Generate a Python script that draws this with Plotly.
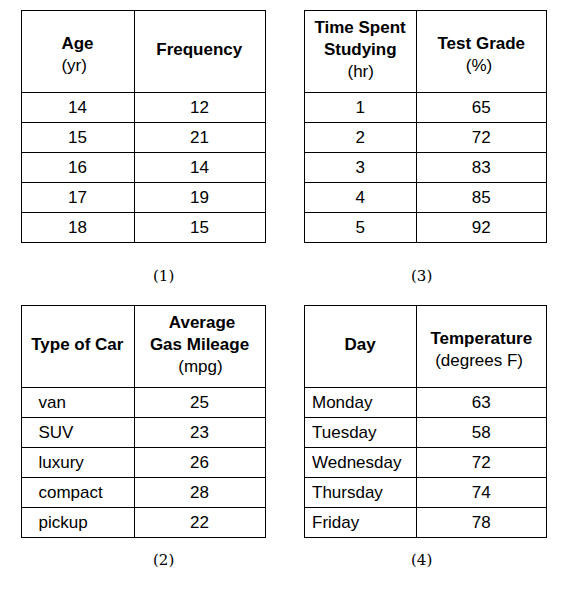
import plotly.graph_objects as go

W, H = 566, 597
age = ["14", "15", "16", "17", "18"]
freq = ["12", "21", "14", "19", "15"]
hours = ["1", "2", "3", "4", "5"]
grade = ["65", "72", "83", "85", "92"]
cars = ["van", "SUV", "luxury", "compact", "pickup"]
mpg = ["25", "23", "26", "28", "22"]
days = ["Monday", "Tuesday", "Wednesday", "Thursday", "Friday"]
temps = ["63", "58", "72", "74", "78"]

N = "&nbsp;"
BIG = "&nbsp;<br>"
SMALL = "<span style='font-size:10px'>&nbsp;</span><br>"

tables = [
    ([SMALL + "<b>Age</b><br>(yr)", BIG + "<b>Frequency</b>"], [age, freq], (21, 265, 134), 10, ["center", "center"], "(1)", 143),
    (["<b>Time Spent</b><br>" + N * 2 + "<b>Studying</b><br>" + N * 7 + "(hr)",
      SMALL + "<b>Test Grade</b><br>" + N * 6 + "(%)"], [hours, grade], (304, 547, 417), 10, ["center", "center"], "(3)", 426),
    ([BIG + "<b>Type of Car</b>", N * 4 + "<b>Average</b><br><b>Gas Mileage</b><br>" + N * 6 + "(mpg)"],
     [["  " + c for c in cars], mpg], (21, 265, 134), 305, ["left", "center"], "(2)", 143),
    ([BIG + "<b>Day</b>", SMALL + "<b>Temperature</b><br>" + N + "(degrees F)"], [days, temps], (304, 547, 417), 305, ["left", "center"], "(4)", 426),
]

fig = go.Figure()
for hdr, cols, (x0, x1, xd), ytop, al, lab, lx in tables:
    x0s, x1s, yts = x0 - 8, x1 - 8, ytop - 8
    fig.add_trace(go.Table(
        domain=dict(x=[x0s / W, x1s / W], y=[0, 1 - yts / H]),
        columnwidth=[xd - x0, x1 - xd],
        header=dict(values=hdr, height=82, align="center",
                    line=dict(color="black", width=1), fill=dict(color="white"),
                    font=dict(family="Liberation Sans", size=17, color="black")),
        cells=dict(values=cols, height=30, align=al,
                   line=dict(color="black", width=1), fill=dict(color="white"),
                   font=dict(family="Liberation Sans", size=17, color="black")),
    ))
    fig.add_annotation(x=lx / W, y=1 - (ytop + 258) / H, xref="paper", yref="paper",
                       text=lab, showarrow=False,
                       font=dict(family="DejaVu Serif", size=15, color="black"))

fig.update_layout(width=W, height=H, margin=dict(l=0, r=0, t=0, b=0),
                  paper_bgcolor="white", plot_bgcolor="white")
fig.write_html("out.html")
